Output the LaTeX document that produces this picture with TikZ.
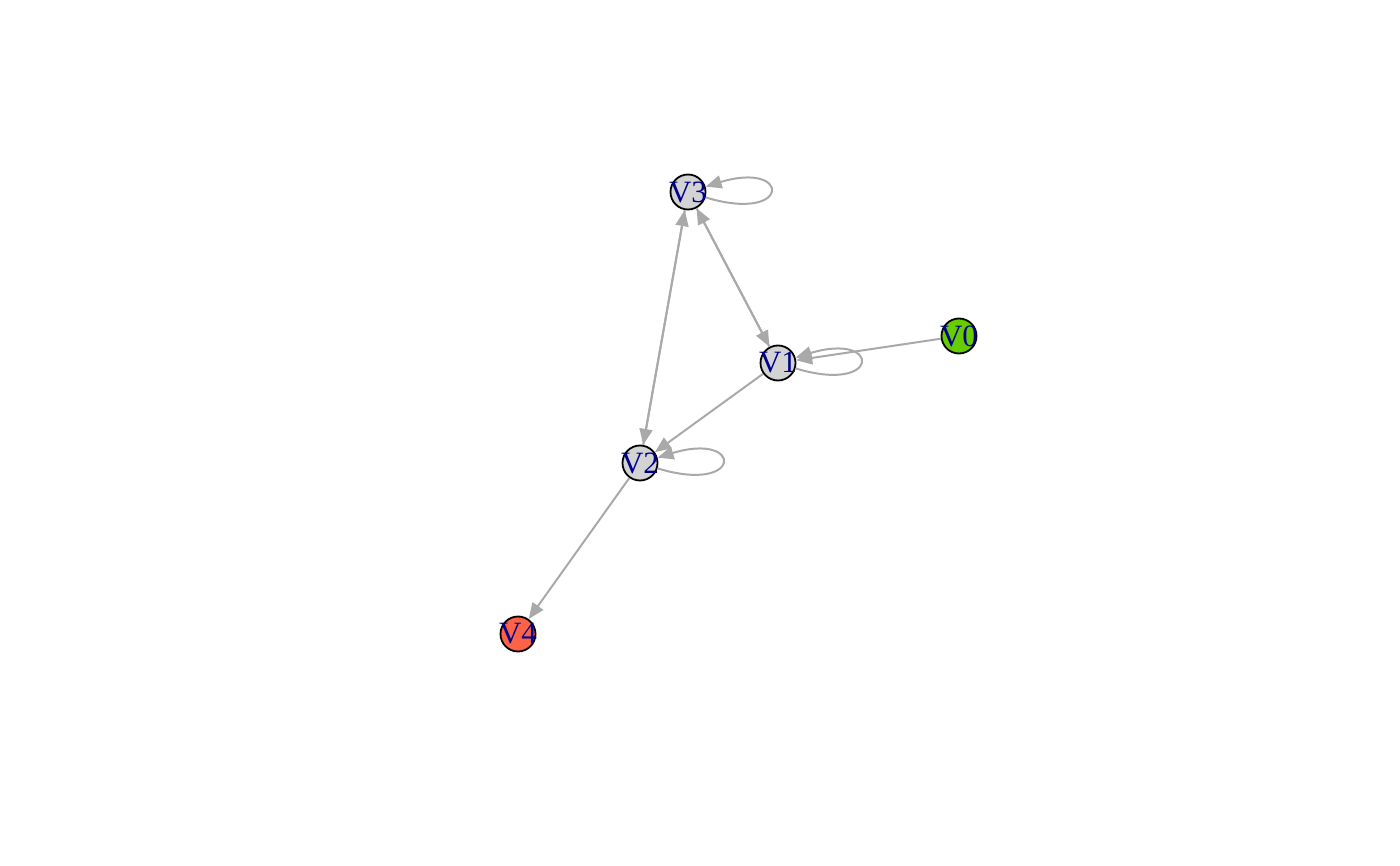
\documentclass[tikz,border=0pt]{standalone}
\usepackage{fontspec}
\setmainfont{Liberation Serif}
\usetikzlibrary{arrows.meta}

\definecolor{nodegray}{HTML}{D3D3D3}
\definecolor{nodegreen}{HTML}{66CD00}
\definecolor{nodered}{HTML}{FF6347}
\definecolor{edgegray}{HTML}{A9A9A9}
\definecolor{labelblue}{HTML}{00008B}

\tikzstyle{vertex}=[circle,minimum size=35pt,inner sep=0pt]
\tikzstyle{nodedecorate}=[draw=black,line width=1.8pt]
\tikzstyle{value}=[text=labelblue,inner sep=0pt,font=\fontsize{31}{31}\selectfont]
\tikzstyle{arrowdecorate}=[-{Triangle[length=16pt,width=13pt]},draw=edgegray,line width=2pt]
\tikzstyle{loopdecorate}=[arrowdecorate,out=-17,in=17,min distance=90pt]

\begin{document}
\begin{tikzpicture}[x=1pt,y=1pt]
    \useasboundingbox (0,0) rectangle (1400,-866);
    %% nodes or vertices
    \foreach \nodename/\x/\y/\color in {
      v0/959/-336/nodegreen,
      v1/778/-363/nodegray,
      v2/640/-463/nodegray,
      v3/688/-192/nodegray,
      v4/518/-634/nodered}
    {
      \node[vertex, nodedecorate, fill=\color] (\nodename) at (\x,\y) {};
    }
    %edges or lines
    \path
    \foreach \startnode/\endnode in {
      v2/v3, v3/v2, v3/v1, v1/v3, v0/v1, v1/v2, v2/v4}
    {
      (\startnode) edge[arrowdecorate] (\endnode)
    };
    %loops
    \path
    \foreach \nodename in {v3, v1, v2}
    {
      (\nodename) edge[loopdecorate] (\nodename)
    };
    %labels
    \foreach \nodename/\name in {v0/V0, v1/V1, v2/V2, v3/V3, v4/V4}
    {
      \node[value] at (\nodename) {\name};
    }
\end{tikzpicture}
\end{document}
